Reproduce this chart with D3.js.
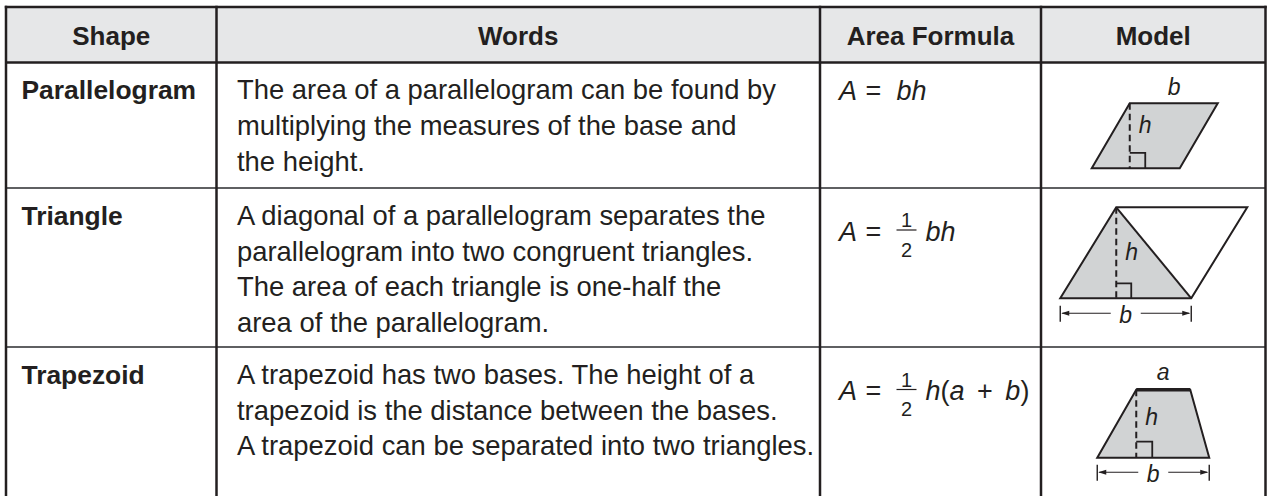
<!DOCTYPE html>
<html>
<head>
<meta charset="utf-8">
<script src="https://cdn.jsdelivr.net/npm/d3@7"></script>
<style>
  html, body { margin: 0; padding: 0; background: #ffffff; }
  svg { display: block; }
  text { font-family: "Liberation Sans", Arial, Helvetica, sans-serif; fill: #231f20; }
</style>
</head>
<body>
<svg id="chart" width="1269" height="496"></svg>
<script>
// ---------- data ----------
const headers = ["Shape", "Words", "Area Formula", "Model"];
const shapeNames = ["Parallelogram", "Triangle", "Trapezoid"];
const wordLines = [
  ["The area of a parallelogram can be found by",
   "multiplying the measures of the base and",
   "the height."],
  ["A diagonal of a parallelogram separates the",
   "parallelogram into two congruent triangles.",
   "The area of each triangle is one-half the",
   "area of the parallelogram."],
  ["A trapezoid has two bases. The height of a",
   "trapezoid is the distance between the bases.",
   "A trapezoid can be separated into two triangles."]
];
const formulaLhs = ["A", "A", "A"];
const formulaHasHalf = [false, true, true];
const formulaRest = [
  [{t: "bh", i: true}],
  [{t: "bh", i: true}],
  [{t: "h", i: true}, {t: "(", i: false}, {t: "a", i: true},
   {t: "+", i: false, gap: true}, {t: "b", i: true, gap: true}, {t: ")", i: false}]
];
// model dimensions (model units)
const parallelogramDims = {base: 88, height: 65, slant: 38};
const triangleDims = {base: 131, height: 91, slant: 56};
const trapezoidDims = {bottom: 112, top: 54, height: 68, slant: 39};
const modelLabels = [["b", "h"], ["h", "b"], ["a", "h", "b"]];

// ---------- layout ----------
const svg = d3.select("#chart");
const colEdges = [6, 216.5, 820, 1041, 1265.5];
const rowEdges = [7, 62.5, 188, 347, 500];
const ink = "#231f20";
const ruleGray = "#5f6062";
const fillGray = "#d1d3d4";

const colX = d3.scaleOrdinal().domain(d3.range(5)).range(colEdges);
const rowY = d3.scaleOrdinal().domain(d3.range(5)).range(rowEdges);

// header background
svg.append("rect")
  .attr("x", colX(0)).attr("y", rowY(0))
  .attr("width", colX(4) - colX(0)).attr("height", rowY(1) - rowY(0))
  .attr("fill", "#e6e7e8");

// row separators
svg.selectAll("line.rowsep").data([2, 3]).join("line")
  .attr("x1", colX(0)).attr("x2", colX(4))
  .attr("y1", d => rowY(d)).attr("y2", d => rowY(d))
  .attr("stroke", ruleGray).attr("stroke-width", 2);

// header bottom
svg.append("line")
  .attr("x1", colX(0)).attr("x2", colX(4))
  .attr("y1", rowY(1)).attr("y2", rowY(1))
  .attr("stroke", ink).attr("stroke-width", 2.5);

// verticals incl. outer
svg.selectAll("line.vert").data([0, 1, 2, 3, 4]).join("line")
  .attr("x1", d => colX(d)).attr("x2", d => colX(d))
  .attr("y1", rowY(0) - 1.2).attr("y2", rowY(4))
  .attr("stroke", ink).attr("stroke-width", 2.5);

// top border
svg.append("line")
  .attr("x1", colX(0) - 1.2).attr("x2", colX(4) + 1.2)
  .attr("y1", rowY(0)).attr("y2", rowY(0))
  .attr("stroke", ink).attr("stroke-width", 2.5);

// header text
svg.selectAll("text.hdr").data(headers).join("text")
  .attr("class", "hdr")
  .attr("x", (d, i) => (colX(i) + colX(i + 1)) / 2)
  .attr("y", rowY(0) + 37.5)
  .attr("text-anchor", "middle")
  .attr("font-weight", "bold")
  .attr("font-size", 26)
  .text(d => d);

// shape names
svg.selectAll("text.shape").data(shapeNames).join("text")
  .attr("class", "shape")
  .attr("x", colX(0) + 15.5)
  .attr("y", (d, i) => rowY(i + 1) + 36.8)
  .attr("font-weight", "bold")
  .attr("font-size", 26.4)
  .text(d => d);

// words
const lineGap = 35.8;
wordLines.forEach((lines, r) => {
  svg.append("g").selectAll("text").data(lines).join("text")
    .attr("x", colX(1) + 20.5)
    .attr("y", (d, k) => rowY(r + 1) + 36.8 + k * lineGap)
    .attr("font-size", 27.4)
    .text(d => d);
});

// formulas
const fSize = 27;
const formulaBase = [99.5, 240.5, 400];
formulaLhs.forEach((lhs, r) => {
  const g = svg.append("g");
  const x0 = colX(2) + 19;
  const y = formulaBase[r];
  g.append("text").attr("x", x0).attr("y", y).attr("font-size", fSize)
    .attr("font-style", "italic").text(lhs);
  g.append("text").attr("x", x0 + 26.5).attr("y", y).attr("font-size", fSize).text("=");
  let x = x0 + 57.5;
  if (formulaHasHalf[r]) {
    const w = 20;
    g.append("line").attr("x1", x).attr("x2", x + w)
      .attr("y1", y - 10.5).attr("y2", y - 10.5)
      .attr("stroke", ink).attr("stroke-width", 1.2);
    g.append("text").attr("x", x + w / 2).attr("y", y - 13.5)
      .attr("text-anchor", "middle").attr("font-size", 20).text("1");
    g.append("text").attr("x", x + w / 2).attr("y", y + 16)
      .attr("text-anchor", "middle").attr("font-size", 20).text("2");
    x += w + 9;
  }
  const t = g.append("text").attr("x", x).attr("y", y).attr("font-size", fSize);
  formulaRest[r].forEach(p => {
    t.append("tspan")
      .attr("font-style", p.i ? "italic" : "normal")
      .attr("dx", p.gap ? 12.5 : 0)
      .text(p.t);
  });
});

// ---------- models ----------
const mx = (left) => d3.scaleLinear().domain([0, 1]).range([left, left + 1]);
const my = (bottom) => d3.scaleLinear().domain([0, 1]).range([bottom, bottom - 1]);
const modelCenter = (colX(3) + colX(4)) / 2;
const line = d3.line();
const labelSize = 23;

function dashedHeight(g, x, y0, y1) {
  g.append("line").attr("x1", x).attr("x2", x).attr("y1", y0).attr("y2", y1)
    .attr("stroke", ink).attr("stroke-width", 2).attr("stroke-dasharray", "6.5,4");
}
function rightAngle(g, x, y, s) {
  g.append("path").attr("d", line([[x, y - s], [x + s, y - s], [x + s, y]]))
    .attr("fill", "none").attr("stroke", ink).attr("stroke-width", 1.8);
}
function label(g, x, y, t, anchor) {
  g.append("text").attr("x", x).attr("y", y).attr("font-size", labelSize)
    .attr("font-style", "italic").attr("text-anchor", anchor || "middle").text(t);
}
function dimension(g, x0, x1, y, t) {
  const mid = (x0 + x1) / 2;
  const gap = 15;
  g.append("line").attr("x1", x0).attr("x2", x0).attr("y1", y - 7.5).attr("y2", y + 8.5)
    .attr("stroke", ink).attr("stroke-width", 1.4);
  g.append("line").attr("x1", x1).attr("x2", x1).attr("y1", y - 7.5).attr("y2", y + 8.5)
    .attr("stroke", ink).attr("stroke-width", 1.4);
  g.append("line").attr("x1", x0 + 2).attr("x2", mid - gap).attr("y1", y).attr("y2", y)
    .attr("stroke", ink).attr("stroke-width", 1.1);
  g.append("line").attr("x1", mid + gap).attr("x2", x1 - 2).attr("y1", y).attr("y2", y)
    .attr("stroke", ink).attr("stroke-width", 1.1);
  g.append("path").attr("d", line([[x0 + 1, y], [x0 + 9, y - 2.5], [x0 + 9, y + 2.5]]) + "Z").attr("fill", ink);
  g.append("path").attr("d", line([[x1 - 1, y], [x1 - 9, y - 2.5], [x1 - 9, y + 2.5]]) + "Z").attr("fill", ink);
  label(g, mid, y + 10, t);
}

// Parallelogram
{
  const d = parallelogramDims;
  const g = svg.append("g");
  const left = modelCenter + 1.5 - (d.base + d.slant) / 2;
  const x = mx(left), y = my(rowY(2) - 19.7);
  const pts = [[0, 0], [d.slant, d.height], [d.slant + d.base, d.height], [d.base, 0]]
    .map(p => [x(p[0]), y(p[1])]);
  g.append("path").attr("d", line(pts) + "Z")
    .attr("fill", fillGray).attr("stroke", ink).attr("stroke-width", 2).attr("stroke-linejoin", "miter");
  dashedHeight(g, x(d.slant), y(d.height), y(0));
  rightAngle(g, x(d.slant), y(0), 15.5);
  label(g, x(d.slant + d.base / 2) + 0.5, y(d.height) - 8, modelLabels[0][0]);
  label(g, x(d.slant) + 9, y(d.height / 2) - 3, modelLabels[0][1], "start");
}

// Triangle
{
  const d = triangleDims;
  const g = svg.append("g");
  const left = modelCenter + 0.5 - (d.base + d.slant) / 2;
  const x = mx(left), y = my(rowY(3) - 48.7);
  const tri = [[0, 0], [d.slant, d.height], [d.base, 0]].map(p => [x(p[0]), y(p[1])]);
  g.append("path").attr("d", line(tri) + "Z").attr("fill", fillGray).attr("stroke", "none");
  const para = [[0, 0], [d.slant, d.height], [d.slant + d.base, d.height], [d.base, 0]]
    .map(p => [x(p[0]), y(p[1])]);
  g.append("path").attr("d", line(para) + "Z")
    .attr("fill", "none").attr("stroke", ink).attr("stroke-width", 2);
  g.append("path").attr("d", line([[x(d.slant), y(d.height)], [x(d.base), y(0)]]))
    .attr("fill", "none").attr("stroke", ink).attr("stroke-width", 2);
  dashedHeight(g, x(d.slant), y(d.height), y(0));
  rightAngle(g, x(d.slant), y(0), 15);
  label(g, x(d.slant) + 9, y(0) - 38, modelLabels[1][0], "start");
  dimension(g, x(0), x(d.base), y(0) + 15, modelLabels[1][1]);
}

// Trapezoid
{
  const d = trapezoidDims;
  const g = svg.append("g");
  const left = modelCenter - d.bottom / 2;
  const x = mx(left), y = my(rowY(4) - 42.3);
  const pts = [[0, 0], [d.slant, d.height], [d.slant + d.top, d.height], [d.bottom, 0]]
    .map(p => [x(p[0]), y(p[1])]);
  g.append("path").attr("d", line(pts) + "Z")
    .attr("fill", fillGray).attr("stroke", ink).attr("stroke-width", 2);
  g.append("line").attr("x1", x(d.slant)).attr("x2", x(d.slant + d.top))
    .attr("y1", y(d.height)).attr("y2", y(d.height))
    .attr("stroke", ink).attr("stroke-width", 3.5);
  dashedHeight(g, x(d.slant), y(d.height), y(0));
  rightAngle(g, x(d.slant), y(0), 16);
  label(g, x(d.slant + d.top / 2), y(d.height) - 10, modelLabels[2][0]);
  label(g, x(d.slant) + 9, y(0) - 33, modelLabels[2][1], "start");
  dimension(g, x(0), x(d.bottom), y(0) + 14.5, modelLabels[2][2]);
}
</script>
</body>
</html>
